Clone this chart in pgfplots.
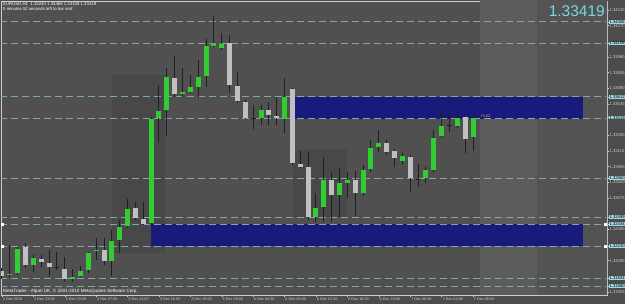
\documentclass[border=0pt]{standalone}
\usepackage{fontspec}
\setmainfont{Liberation Sans}
\usepackage{pgfplots}
\usepackage{pgfplotstable}
\pgfplotsset{compat=1.18}
\definecolor{framebg}{RGB}{76,76,76}
\definecolor{plotbg}{RGB}{80,80,80}
\definecolor{shadedark}{RGB}{72,72,72}
\definecolor{shadelight}{RGB}{92,92,92}
\definecolor{shademid}{RGB}{84,84,84}
\definecolor{boxblue}{RGB}{26,26,125}
\definecolor{dashc}{RGB}{128,168,170}
\definecolor{wickc}{RGB}{32,32,32}
\definecolor{bullc}{RGB}{50,205,50}
\definecolor{bearc}{RGB}{192,192,192}
\definecolor{lblc}{RGB}{205,205,205}
\definecolor{hlc}{RGB}{160,214,224}
\definecolor{bigc}{RGB}{120,215,225}
\definecolor{yel}{RGB}{190,180,70}

% i open high low close
\pgfplotstableread{
i o h l c
1 1.31962 1.32240 1.31944 1.31971
2 1.31980 1.32221 1.31962 1.32203
4 1.32054 1.32147 1.31990 1.32119
9 1.31925 1.32017 1.31897 1.31944
10 1.31953 1.32045 1.31944 1.31999
11 1.32008 1.32175 1.31980 1.32166
12 1.32184 1.32305 1.32101 1.32193
14 1.32091 1.32379 1.31953 1.32277
15 1.32286 1.32471 1.32166 1.32406
16 1.32416 1.32665 1.32397 1.32573
19 1.32443 1.33424 1.32434 1.33406
20 1.33415 1.33720 1.33183 1.33480
21 1.33489 1.33878 1.33248 1.33794
23 1.33637 1.33878 1.33609 1.33655
24 1.33655 1.33813 1.33646 1.33702
25 1.33702 1.33952 1.33609 1.33794
26 1.33804 1.34146 1.33702 1.34081
27 1.34081 1.34359 1.34072 1.34109
28 1.34063 1.34202 1.34044 1.34100
33 1.33415 1.33535 1.33350 1.33489
36 1.33406 1.33785 1.33276 1.33609
40 1.32499 1.32721 1.32452 1.32582
41 1.32591 1.33054 1.32452 1.32841
43 1.32703 1.32952 1.32499 1.32813
44 1.32813 1.32915 1.32675 1.32841
46 1.32721 1.32980 1.32693 1.32934
47 1.32943 1.33211 1.32915 1.33137
48 1.33146 1.33304 1.33100 1.33183
51 1.33017 1.33091 1.32980 1.33063
54 1.32860 1.32961 1.32813 1.32934
55 1.32934 1.33304 1.32915 1.33230
56 1.33248 1.33517 1.33239 1.33341
58 1.33341 1.33480 1.33322 1.33415
60 1.33240 1.33465 1.33108 1.33419
}\bull

\pgfplotstableread{
i o h l c
0 1.31999 1.32027 1.31925 1.31953
3 1.32221 1.32258 1.32027 1.32054
5 1.32110 1.32147 1.32036 1.32082
6 1.32073 1.32193 1.31953 1.32036
8 1.32017 1.32129 1.31897 1.31925
13 1.32193 1.32305 1.32054 1.32091
17 1.32582 1.32637 1.32471 1.32489
18 1.32480 1.32637 1.32425 1.32434
22 1.33785 1.33989 1.33609 1.33637
29 1.34109 1.34183 1.33646 1.33720
30 1.33711 1.33841 1.33554 1.33572
31 1.33563 1.33581 1.33406 1.33415
34 1.33489 1.33563 1.33350 1.33443
35 1.33434 1.33609 1.33350 1.33415
37 1.33683 1.33693 1.32980 1.32998
38 1.32989 1.33109 1.32952 1.32961
39 1.32961 1.33100 1.32471 1.32499
42 1.32841 1.32915 1.32452 1.32703
45 1.32841 1.32924 1.32508 1.32721
49 1.33183 1.33211 1.33073 1.33100
50 1.33109 1.33127 1.32961 1.33045
52 1.33054 1.33073 1.32730 1.32860
59 1.33424 1.33434 1.33091 1.33220
}\bear

\pgfplotstableread{
i o h l c
7 1.32027 1.32175 1.32008 1.32027
32 1.33406 1.33535 1.33313 1.33406
53 1.32850 1.32989 1.32776 1.32850
57 1.33350 1.33461 1.33285 1.33350
}\doji

\begin{document}
\begin{tikzpicture}
\fill[framebg] (0pt,0pt) rectangle (625pt,304pt);
\path[use as bounding box] (0pt,0pt) rectangle (625pt,304pt);
\begin{axis}[
  at={(1pt,9pt)}, anchor=south west,
  scale only axis, width=606pt, height=294pt,
  xmin=-0.127, xmax=77.07, ymin=1.31777, ymax=1.34498,
  axis background/.style={fill=plotbg},
  axis line style={draw=lblc, line width=0.6pt},
  tick style={draw=lblc, line width=0.4pt},
  tick align=outside, major tick length=2pt,
  xtick pos=left, ytick pos=right, yticklabel pos=right,
  xtick={0,4,8,12,16,20,24,28,32,36,40,44,48,52,56,60},
  xticklabels={2 Dec 2010,2 Dec 23:00,3 Dec 03:00,3 Dec 07:00,3 Dec 11:00,3 Dec 15:00,3 Dec 19:00,6 Dec 00:00,6 Dec 04:00,6 Dec 08:00,6 Dec 12:00,6 Dec 16:00,6 Dec 20:00,7 Dec 00:00,7 Dec 04:00,7 Dec 08:00},
  xticklabel style={anchor=north west, inner sep=0.4pt, xshift=0.3pt, font=\fontsize{3.8}{4.2}\selectfont, text=lblc},
  ytick={1.34415,1.34270,1.33980,1.33835,1.33690,1.33545,1.33255,1.33110,1.32965,1.32820,1.32675,1.32385,1.32095,1.31805},
  scaled y ticks=false,
  yticklabel style={anchor=west, inner sep=0.3pt, font=\fontsize{4.2}{4.6}\selectfont, text=lblc,
    /pgf/number format/fixed, /pgf/number format/fixed zerofill, /pgf/number format/precision=5,
    /pgf/number format/assume math mode=true},
  extra y ticks={1.34306,1.34106,1.33612,1.33419,1.32860,1.32499,1.32434,1.32230,1.31934,1.31860},
  extra y tick style={yticklabel style={fill=hlc, text=black, inner sep=0.3pt}},
  clip=true,
]
% shaded session areas
\addplot[draw=none, fill=shadelight, forget plot] coordinates {(60.9,1.31) (68.2,1.31) (68.2,1.35) (60.9,1.35)} -- cycle;
\addplot[draw=none, fill=shademid, forget plot] coordinates {(68.2,1.31) (78,1.31) (78,1.35) (68.2,1.35)} -- cycle;
\addplot[draw=none, fill=shadedark, forget plot] coordinates {(14,1.33813) (20.8,1.33813) (20.8,1.32166) (14,1.32166)} -- cycle;
\addplot[draw=none, fill=shadedark, forget plot] coordinates {(37.1,1.33119) (43.9,1.33119) (43.9,1.32499) (37.1,1.32499)} -- cycle;
% blue zones
\addplot[draw=none, fill=boxblue, forget plot] coordinates {(37.2,1.33612) (74.0,1.33612) (74.0,1.33410) (37.2,1.33410)} -- cycle;
\addplot[draw=none, fill=boxblue, forget plot] coordinates {(19.0,1.32434) (74.0,1.32434) (74.0,1.32230) (19.0,1.32230)} -- cycle;
% horizontal dashed lines
\pgfplotsinvokeforeach{1.34306,1.34106,1.33612,1.33410,1.32860,1.32499,1.32434,1.32230,1.31934,1.31860}{
  \addplot[dashc, line width=0.9pt, dash pattern=on 7pt off 4pt, forget plot] coordinates {(-0.2,#1) (76.9,#1)};
}
% wicks
\addplot[draw=none, mark=none, forget plot, error bars/.cd, y dir=plus, y explicit, error mark=none,
  error bar style={draw=wickc, line width=1pt}] table[x=i, y=l, y error expr=\thisrow{h}-\thisrow{l}] {\bull};
\addplot[draw=none, mark=none, forget plot, error bars/.cd, y dir=plus, y explicit, error mark=none,
  error bar style={draw=wickc, line width=1pt}] table[x=i, y=l, y error expr=\thisrow{h}-\thisrow{l}] {\bear};
\addplot[draw=none, mark=none, forget plot, error bars/.cd, y dir=plus, y explicit, error mark=none,
  error bar style={draw=wickc, line width=1pt}] table[x=i, y=l, y error expr=\thisrow{h}-\thisrow{l}] {\doji};
% bodies
\addplot[draw=none, mark=none, forget plot, error bars/.cd, y dir=plus, y explicit, error mark=none,
  error bar style={draw=bullc, line width=5pt}] table[x=i, y=o, y error expr=\thisrow{c}-\thisrow{o}] {\bull};
\addplot[draw=none, mark=none, forget plot, error bars/.cd, y dir=plus, y explicit, error mark=none,
  error bar style={draw=bearc, line width=5pt}] table[x=i, y=c, y error expr=\thisrow{o}-\thisrow{c}] {\bear};
\addplot[only marks, mark=-, mark size=2.5pt, mark options={draw=wickc, line width=1pt}, forget plot] table[x=i, y=o] {\doji};
% zone anchor points
\addplot[only marks, mark=square*, mark size=1pt, mark options={draw=white, fill=white}, forget plot]
  coordinates {(0,1.32434) (0,1.32230) (76.8,1.32434) (76.8,1.32230)};
\node[anchor=base west, inner sep=0pt, font=\fontsize{4}{4.5}\selectfont, text=yel] at (axis cs:60.9,1.33420) {+5.62};
\end{axis}
\node[anchor=north west, inner sep=0pt, align=left, font=\fontsize{4.3}{5.2}\selectfont, text=white] at (3pt,301.5pt)
  {EURUSD,H1\ \ 1.33240 1.33465 1.33108 1.33419\\5 minutes 52 seconds left to bar end};
\node[anchor=north east, inner sep=0pt, font=\fontsize{15.5}{16}\selectfont, text=bigc] at (605pt,299pt) {1.33419};
\node[anchor=base west, inner sep=0pt, font=\fontsize{4.6}{5}\selectfont, text=white] at (3pt,11.8pt)
  {MetaTrader - Alpari UK, © 2001-2010 MetaQuotes Software Corp.};
\end{tikzpicture}
\end{document}
